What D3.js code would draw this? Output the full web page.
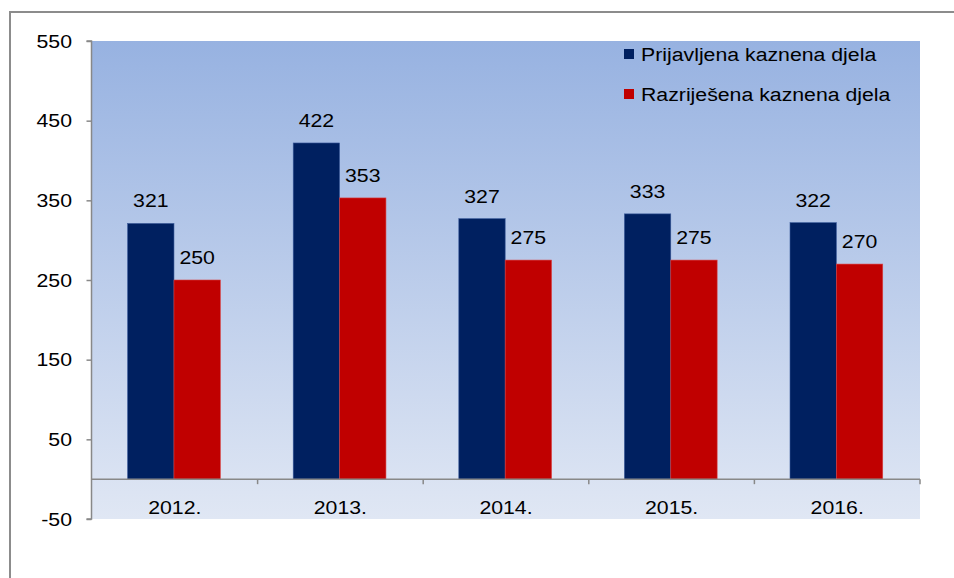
<!DOCTYPE html>
<html>
<head>
<meta charset="utf-8">
<script src="https://cdn.jsdelivr.net/npm/d3@7"></script>
<style>
  html, body { margin: 0; padding: 0; background: #fff; }
  svg { display: block; }
  text { font-family: "Liberation Sans", Arial, sans-serif; fill: #000; }
</style>
</head>
<body>
<svg id="chart" width="954" height="578"></svg>
<script>
const categories = ["2012.", "2013.", "2014.", "2015.", "2016."];
const seriesNames = ["Prijavljena kaznena djela", "Razriješena kaznena djela"];
const prijavljena = [321, 422, 327, 333, 322];
const razrijesena = [250, 353, 275, 275, 270];
const yTicks = [-50, 50, 150, 250, 350, 450, 550];
const colors = ["#002060", "#C00000"];
const strokes = ["#3a5a9a", "#d84040"];

const FS = 19, SX = 1.12;
const svg = d3.select("#chart");
const plot = { left: 92, right: 920, top: 41, bottom: 519 };

function stext(sel, x, y, str, anchor) {
  return sel.append("text")
    .attr("transform", `translate(${x},${y}) scale(${SX},1)`)
    .attr("text-anchor", anchor || "start")
    .attr("font-size", FS)
    .text(str);
}

// outer frame
svg.append("rect").attr("x", 10).attr("y", 12).attr("width", 960).attr("height", 600)
  .attr("fill", "#fff").attr("stroke", "#8c8c8c").attr("stroke-width", 2);

// gradient
const defs = svg.append("defs");
const grad = defs.append("linearGradient").attr("id", "bg")
  .attr("x1", 0).attr("y1", 0).attr("x2", 0).attr("y2", 1);
grad.append("stop").attr("offset", "0%").attr("stop-color", "#97b2e1");
grad.append("stop").attr("offset", "100%").attr("stop-color", "#e0e7f4");

svg.append("rect").attr("x", plot.left).attr("y", plot.top)
  .attr("width", plot.right - plot.left).attr("height", plot.bottom - plot.top)
  .attr("fill", "url(#bg)");

const y = d3.scaleLinear().domain([-50, 550]).range([plot.bottom, plot.top]);
const x = d3.scaleBand().domain(categories).range([plot.left, plot.right]).padding(0);
const bw = x.bandwidth();
const x1 = d3.scaleBand().domain(seriesNames).range([bw * 0.215, bw * 0.775]).padding(0);

const data = categories.map((c, i) => ({ cat: c, vals: [prijavljena[i], razrijesena[i]] }));

const g = svg.append("g");
const groups = g.selectAll("g.cat").data(data).join("g")
  .attr("transform", d => `translate(${x(d.cat)},0)`);

groups.selectAll("rect").data(d => d.vals.map((v, k) => ({ v, k }))).join("rect")
  .attr("x", d => x1(seriesNames[d.k]))
  .attr("width", x1.bandwidth())
  .attr("y", d => y(d.v))
  .attr("height", d => y(0) - y(d.v))
  .attr("fill", d => colors[d.k])
  .attr("stroke", d => strokes[d.k])
  .attr("stroke-width", 0.6);

groups.each(function(d) {
  const gg = d3.select(this);
  d.vals.forEach((v, k) => {
    stext(gg, x1(seriesNames[k]) + x1.bandwidth() / 2, y(v) - 16, v, "middle");
  });
});

// y axis
const yAxis = d3.axisLeft(y).tickValues(yTicks).tickSize(5).tickFormat(() => "");
const ya = svg.append("g").attr("transform", `translate(${plot.left - 0.5},0)`).call(yAxis);
ya.selectAll("path.domain").attr("d", `M-5,${plot.top}H0V${plot.bottom}H-5`)
  .attr("stroke", "#888").attr("stroke-width", 1.5);
ya.selectAll(".tick line").attr("stroke", "#888").attr("stroke-width", 1.5);
const yl = svg.append("g");
yTicks.forEach(t => stext(yl, 72, y(t) + 6.5, String(t), "end"));

// x axis at zero
const x0 = y(0);
const xa = svg.append("g");
xa.append("line").attr("x1", plot.left).attr("x2", plot.right).attr("y1", x0).attr("y2", x0)
  .attr("stroke", "#888").attr("stroke-width", 1.5);
xa.selectAll("line.tk").data(categories).join("line").attr("class", "tk")
  .attr("x1", d => x(d) + bw).attr("x2", d => x(d) + bw)
  .attr("y1", x0).attr("y2", x0 + 5)
  .attr("stroke", "#888").attr("stroke-width", 1.5);
categories.forEach(c => stext(xa, x(c) + bw / 2, x0 + 35, c, "middle"));

// legend
const leg = svg.append("g");
seriesNames.forEach((s, k) => {
  leg.append("rect").attr("x", 624).attr("y", 49 + k * 40).attr("width", 10).attr("height", 10)
    .attr("fill", colors[k]);
  stext(leg, 641, 61 + k * 40, s, "start");
});
</script>
</body>
</html>
